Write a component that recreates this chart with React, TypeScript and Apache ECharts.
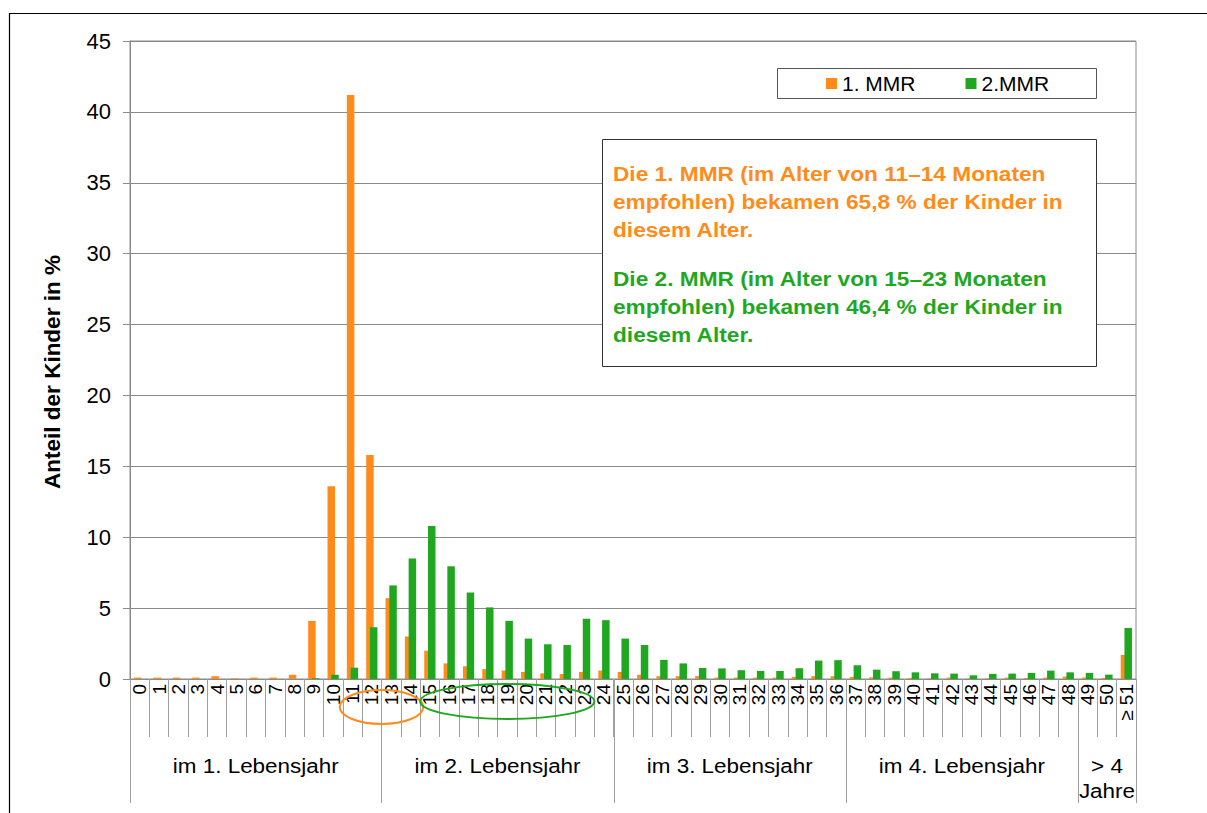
import React, { useEffect, useRef } from "react";
import * as echarts from "echarts";

const categories = [
  "0", "1", "2", "3", "4", "5", "6", "7", "8", "9", "10", "11", "12", "13", "14", "15", "16", "17",
  "18", "19", "20", "21", "22", "23", "24", "25", "26", "27", "28", "29", "30", "31", "32", "33", "34",
  "35", "36", "37", "38", "39", "40", "41", "42", "43", "44", "45", "46", "47", "48", "49", "50", "≥ 51",
];

const mmr1 = [
  0.1, 0.1, 0.1, 0.1, 0.2, 0.05, 0.1, 0.1, 0.3, 4.1, 13.6, 41.2, 15.8, 5.7, 3.0, 2.0, 1.1, 0.9,
  0.7, 0.6, 0.5, 0.4, 0.35, 0.5, 0.6, 0.5, 0.3, 0.2, 0.2, 0.2, 0.1, 0.1, 0.1, 0.1, 0.15,
  0.2, 0.2, 0.15, 0.12, 0.1, 0.07, 0.05, 0.1, 0.03, 0.05, 0.1, 0.07, 0.1, 0.17, 0.1, 0.07, 1.7,
];

const mmr2 = [
  0, 0, 0, 0, 0, 0, 0, 0, 0, 0.05, 0.3, 0.8, 3.65, 6.6, 8.5, 10.8, 7.95, 6.1,
  5.05, 4.1, 2.85, 2.45, 2.4, 4.25, 4.15, 2.85, 2.4, 1.35, 1.1, 0.78, 0.75, 0.62, 0.57, 0.57, 0.76,
  1.3, 1.33, 0.97, 0.66, 0.55, 0.47, 0.4, 0.38, 0.26, 0.36, 0.38, 0.43, 0.59, 0.47, 0.43, 0.31, 3.6,
];

const seriesNames = ["1. MMR", "2.MMR"];
const yMin = 0;
const yMax = 45;
const yStep = 5;
const yTitle = "Anteil der Kinder in %";

const groupLabels = ["im 1. Lebensjahr", "im 2. Lebensjahr", "im 3. Lebensjahr", "im 4. Lebensjahr", "> 4\nJahre"];
const groupBounds = [0, 13, 25, 37, 49, 52];

const note1 = ["Die 1. MMR (im Alter von 11–14 Monaten", "empfohlen) bekamen 65,8 % der Kinder in", "diesem Alter."];
const note2 = ["Die 2. MMR (im Alter von 15–23 Monaten", "empfohlen) bekamen 46,4 % der Kinder in", "diesem Alter."];
const circled1 = [11, 14];
const circled2 = [15, 23];

const ORANGE = "#FF8C1A";
const GREEN = "#1FA81F";
const FONT = "'Liberation Sans', Arial, Helvetica, sans-serif";

export default function App() {
  const ref = useRef<HTMLDivElement>(null);
  useEffect(() => {
    const chart = echarts.init(ref.current!, null, { renderer: "svg" });
    chart.setOption({
      animation: false,
      backgroundColor: "#fff",
      textStyle: { fontFamily: FONT },
      grid: { left: 130, right: 71, top: 41, bottom: 134, show: true, borderColor: "#8a8a8a", borderWidth: 1 },
      legend: {
        data: seriesNames,
        left: 826,
        top: 73,
        itemWidth: 11,
        itemHeight: 11,
        itemGap: 50,
        icon: "rect",
        padding: 0,
        z: 200,
        textStyle: { fontSize: 21, color: "#000", fontFamily: FONT },
      },
      xAxis: {
        type: "category",
        data: categories,
        boundaryGap: true,
        axisLine: { lineStyle: { color: "#8a8a8a", width: 1 } },
        axisTick: { show: true, interval: 0, length: 58, lineStyle: { color: "#a0a0a0" } },
        axisLabel: { interval: 0, rotate: 90, fontSize: 19, color: "#000", margin: 5, fontFamily: FONT },
      },
      yAxis: {
        type: "value",
        min: yMin,
        max: yMax,
        interval: yStep,
        axisLine: { show: true, lineStyle: { color: "#8a8a8a" } },
        axisTick: { show: true, length: 7, lineStyle: { color: "#8a8a8a" } },
        splitLine: { lineStyle: { color: "#8a8a8a" } },
        axisLabel: { fontSize: 22, color: "#000", margin: 19, fontFamily: FONT },
      },
      series: [
        { name: seriesNames[0], type: "bar", data: mmr1, barWidth: 7.5, barGap: "-50%", itemStyle: { color: ORANGE } },
        { name: seriesNames[1], type: "bar", data: mmr2, barWidth: 7.5, barGap: "-50%", itemStyle: { color: GREEN } },
      ],
    });

    const px = (i: number) => chart.convertToPixel({ xAxisIndex: 0 }, i) as number;
    const bw = px(1) - px(0);
    const bound = (i: number) => px(0) - bw / 2 + i * bw;
    const yBase = chart.convertToPixel({ yAxisIndex: 0 }, 0) as number;

    const graphics: any[] = [];
    graphics.push({
      type: "rect",
      shape: { x: 9.5, y: 13.5, width: 1300, height: 900 },
      style: { fill: "none", stroke: "#000", lineWidth: 1.2 },
      silent: true,
      z: 50,
    });
    groupBounds.forEach((b) => {
      const x = Math.round(bound(b)) + 0.5;
      graphics.push({
        type: "line",
        shape: { x1: x, y1: yBase, x2: x, y2: yBase + 124 },
        style: { stroke: "#a0a0a0", lineWidth: 1 },
        z: 50,
      });
    });
    groupLabels.forEach((lab, k) => {
      const cx = (bound(groupBounds[k]) + bound(groupBounds[k + 1])) / 2;
      graphics.push({
        type: "text",
        x: cx,
        y: yBase + 74,
        scaleX: 1.07,
        z: 50,
        style: { text: lab, font: `21px ${FONT}`, fill: "#000", align: "center", verticalAlign: "top", lineHeight: 25 },
      });
    });
    graphics.push({
      type: "ellipse",
      shape: { cx: (px(circled1[0]) + px(circled1[1])) / 2, cy: yBase + 28, rx: ((circled1[1] - circled1[0] + 1) * bw) / 2 + 3, ry: 17 },
      style: { fill: "none", stroke: ORANGE, lineWidth: 2 },
      z: 60,
    });
    graphics.push({
      type: "ellipse",
      shape: { cx: (px(circled2[0]) + px(circled2[1])) / 2, cy: yBase + 22.5, rx: ((circled2[1] - circled2[0] + 1) * bw) / 2, ry: 17.5 },
      style: { fill: "none", stroke: GREEN, lineWidth: 2 },
      z: 60,
    });
    graphics.push({
      type: "text",
      x: 52,
      y: 372,
      rotation: Math.PI / 2,
      z: 50,
      style: { text: yTitle, font: `bold 22.5px ${FONT}`, fill: "#000", align: "center", verticalAlign: "middle" },
    });
    graphics.push({
      type: "rect",
      shape: { x: 777.5, y: 68.5, width: 319, height: 30 },
      style: { fill: "#fff", stroke: "#555", lineWidth: 1 },
      z: 100,
    });
    graphics.push({
      type: "rect",
      shape: { x: 602.5, y: 139.5, width: 494, height: 227 },
      style: { fill: "#fff", stroke: "#333", lineWidth: 1 },
      z: 100,
    });
    note1.forEach((t, i) => {
      graphics.push({
        type: "text",
        x: 613,
        y: 174 + i * 28,
        scaleX: 1.08,
        z: 101,
        style: { text: t, font: `bold 21px ${FONT}`, fill: ORANGE, align: "left", verticalAlign: "middle" },
      });
    });
    note2.forEach((t, i) => {
      graphics.push({
        type: "text",
        x: 613,
        y: 279 + i * 28,
        scaleX: 1.08,
        z: 101,
        style: { text: t, font: `bold 21px ${FONT}`, fill: GREEN, align: "left", verticalAlign: "middle" },
      });
    });
    chart.setOption({ graphic: graphics });
    return () => chart.dispose();
  }, []);
  return <div ref={ref} style={{ position: "fixed", left: 0, top: 0, width: 1207, height: 813 }} />;
}
